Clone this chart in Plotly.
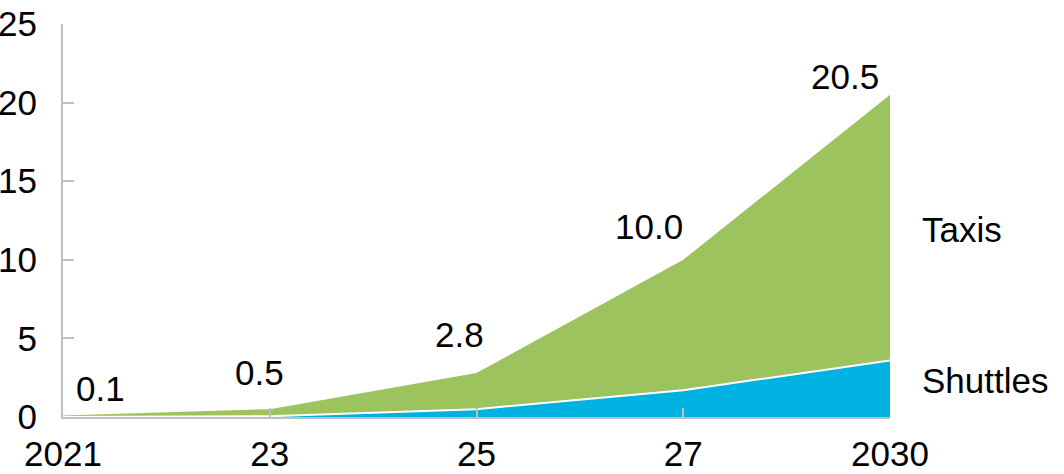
import plotly.graph_objects as go

# Robotaxi market, stacked by segment
years = ["2021", "23", "25", "27", "2030"]
shuttles = [0.0, 0.05, 0.5, 1.7, 3.6]
totals = [0.1, 0.5, 2.8, 10.0, 20.5]
taxis = [round(t - s, 2) for t, s in zip(totals, shuttles)]
y_ticks = [0, 5, 10, 15, 20, 25]

GREEN = "#9DC35E"
BLUE = "#00B2E1"
AXIS = "#BFBFBF"
FONT = "Liberation Sans, Arial, sans-serif"

fig = go.Figure()
fig.add_trace(go.Scatter(
    x=years, y=shuttles, stackgroup="one", mode="lines",
    line=dict(color="white", width=2), fillcolor=BLUE, name="Shuttles",
))
fig.add_trace(go.Scatter(
    x=years, y=taxis, stackgroup="one", mode="lines",
    line=dict(color=GREEN, width=0), fillcolor=GREEN, name="Taxis",
))

# total labels above the stacked area (x given as category index)
label_offsets = [(37, 27), (-10, 37), (-17, 38), (-34, 33), (-45, 18)]
for i, (tot, (dx, dy)) in enumerate(zip(totals, label_offsets)):
    fig.add_annotation(
        x=i, y=tot, text=f"{tot:.1f}", showarrow=False,
        xshift=dx, yshift=dy, font=dict(size=35, color="black", family=FONT),
    )

# series names to the right of the plot
for name, yv in [("Taxis", 11.9), ("Shuttles", 2.35)]:
    fig.add_annotation(
        x=1, xref="paper", y=yv, yref="y", text=name, showarrow=False,
        xanchor="left", xshift=30, font=dict(size=35, color="black", family=FONT),
    )

fig.update_layout(
    width=1064, height=474,
    margin=dict(l=63, r=174, t=24, b=57),
    paper_bgcolor="white", plot_bgcolor="white",
    showlegend=False,
    font=dict(family=FONT, size=35, color="black"),
    xaxis=dict(
        type="category", range=[0, 4], showgrid=False, zeroline=False,
        showline=True, linecolor=AXIS, linewidth=2, automargin=False,
        ticks="inside", ticklen=9, tickwidth=2, tickcolor=AXIS,
        ticklabelstandoff=5,
        tickfont=dict(size=35, color="black", family=FONT),
    ),
    yaxis=dict(
        range=[0, 25], tickvals=y_ticks, showgrid=False, zeroline=False,
        showline=True, linecolor=AXIS, linewidth=2, automargin=False,
        ticks="inside", ticklen=11, tickwidth=2, tickcolor=AXIS,
        ticklabelstandoff=17,
        tickfont=dict(size=35, color="black", family=FONT),
    ),
)

fig.write_html("out.html")
